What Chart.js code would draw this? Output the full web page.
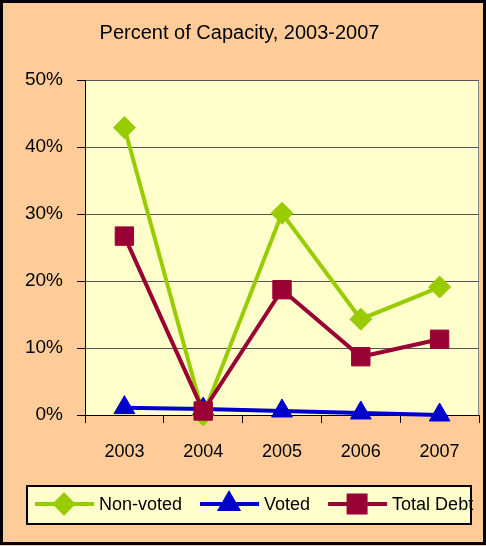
<!DOCTYPE html>
<html>
<head>
<meta charset="utf-8">
<script src="https://cdn.jsdelivr.net/npm/chart.js@4"></script>
<style>
  body { margin: 0; background: #fff; }
  canvas { display: block; }
</style>
</head>
<body>
<canvas id="capacityChart" width="486" height="546"></canvas>
<script>
const years = ["2003", "2004", "2005", "2006", "2007"];
const nonVoted = [42.9, 0.0, 30.1, 14.3, 19.1];
const voted = [1.1, 0.9, 0.6, 0.3, 0.0];
const totalDebt = [26.7, 0.6, 18.7, 8.7, 11.3];
const yTicks = [0, 10, 20, 30, 40, 50];

const FONT = "'Liberation Sans', Arial, sans-serif";

// peach frame + yellow plot area
const backgroundPlugin = {
  id: "background",
  beforeDraw(chart) {
    const { ctx, chartArea: a } = chart;
    ctx.save();
    ctx.fillStyle = "#FFCC99";
    ctx.fillRect(0, 0, chart.width, chart.height);
    ctx.fillStyle = "#FFFFCC";
    ctx.fillRect(a.left, a.top, a.right - a.left, a.bottom - a.top);
    ctx.strokeStyle = "#888";
    ctx.lineWidth = 1;
    ctx.strokeRect(a.left + 0.5, a.top + 0.5, a.right - a.left - 1, a.bottom - a.top);
    ctx.restore();
  },
  afterDraw(chart) {
    const ctx = chart.ctx;
    ctx.save();
    ctx.strokeStyle = "#000";
    ctx.lineWidth = 3;
    ctx.strokeRect(1.5, 1.5, chart.width - 3, chart.height - 4);
    ctx.restore();
  },
};

// legend drawn as line + marker like the original
const legendPlugin = {
  id: "lineLegend",
  afterDraw(chart) {
    const ctx = chart.ctx;
    ctx.save();
    ctx.fillStyle = "#FFFFCC";
    ctx.fillRect(27, 486, 444, 38);
    ctx.strokeStyle = "#000";
    ctx.lineWidth = 2;
    ctx.strokeRect(27, 486, 444, 38);
    ctx.font = "18px " + FONT;
    ctx.textBaseline = "middle";
    let x = 35;
    const y = 504;
    chart.data.datasets.forEach((ds) => {
      ctx.strokeStyle = ds.borderColor;
      ctx.lineWidth = 4;
      ctx.beginPath();
      ctx.moveTo(x, y);
      ctx.lineTo(x + 59, y);
      ctx.stroke();
      ctx.fillStyle = ds.backgroundColor;
      ctx.strokeStyle = ds.borderColor;
      Chart.helpers.drawPoint(ctx, {
        pointStyle: ds.pointStyle,
        radius: ds.legendRadius,
        rotation: 0,
        borderWidth: 1,
      }, x + 29, y);
      ctx.fillStyle = "#000";
      ctx.fillText(ds.label, x + 64, y + 1);
      x += 64 + ctx.measureText(ds.label).width + 18;
    });
    ctx.restore();
  },
};

const ctx = document.getElementById("capacityChart").getContext("2d");
new Chart(ctx, {
  type: "line",
  data: {
    labels: years,
    datasets: [
      {
        label: "Non-voted",
        data: nonVoted,
        borderColor: "#99CC00",
        backgroundColor: "#99CC00",
        pointStyle: "rectRot",
        pointRadius: 11,
        legendRadius: 9,
        order: 3,
      },
      {
        label: "Voted",
        data: voted,
        borderColor: "#0000CC",
        backgroundColor: "#0000CC",
        pointStyle: "triangle",
        pointRadius: 12,
        legendRadius: 10,
        order: 2,
      },
      {
        label: "Total Debt",
        data: totalDebt,
        borderColor: "#990033",
        backgroundColor: "#990033",
        pointStyle: "rect",
        pointRadius: 13,
        legendRadius: 12,
        order: 1,
      },
    ],
  },
  options: {
    responsive: false,
    animation: false,
    devicePixelRatio: 1,
    datasets: {
      line: { borderWidth: 4, tension: 0, pointBorderWidth: 1, clip: false },
    },
    // autoPadding would reserve room for the big markers and shrink the plot
    layout: { autoPadding: false, padding: { left: 0, right: 7, top: 0, bottom: 0 } },
    plugins: {
      legend: { display: false },
      tooltip: { enabled: false },
      title: {
        display: true,
        text: "Percent of Capacity, 2003-2007",
        color: "#000",
        font: { family: FONT, size: 20, weight: "normal", lineHeight: 1.2 },
        padding: { top: 21, bottom: 35 },
      },
    },
    scales: {
      x: {
        offset: true,
        afterFit: (scale) => {
          scale.height = 131;
          scale.paddingLeft = 0;
          scale.paddingRight = 0;
        },
        grid: { offset: true, drawOnChartArea: false, drawTicks: true, tickLength: 8, color: "#000" },
        border: { color: "#000", width: 1 },
        ticks: { color: "#000", padding: 18, font: { family: FONT, size: 18 } },
      },
      y: {
        min: 0,
        max: 50,
        afterFit: (scale) => { scale.width = 85; },
        afterBuildTicks: (scale) => { scale.ticks = yTicks.map((v) => ({ value: v })); },
        grid: { color: "#555", tickLength: 8, tickColor: "#000" },
        border: { color: "#000", width: 1 },
        ticks: {
          color: "#000",
          padding: 14,
          font: { family: FONT, size: 19 },
          callback: (v) => v + "%",
        },
      },
    },
  },
  plugins: [backgroundPlugin, legendPlugin],
});
</script>
</body>
</html>
